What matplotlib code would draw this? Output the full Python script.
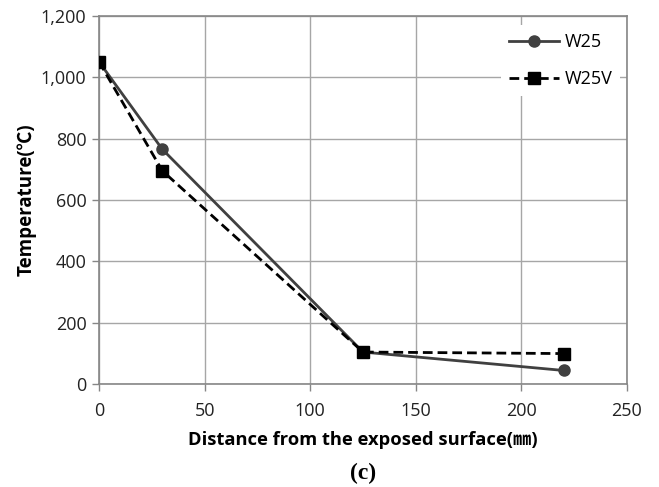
import matplotlib
matplotlib.use("Agg")
import matplotlib.pyplot as plt
from matplotlib.ticker import FuncFormatter

plt.rcParams['font.family'] = ['Open Sans', 'Noto Sans CJK KR', 'DejaVu Sans']

# distance from exposed surface (mm) and measured temperature (C)
distance = [0, 30, 125, 220]
temp_w25 = [1050, 765, 105, 45]
temp_w25v = [1050, 695, 105, 100]

xticks = [0, 50, 100, 150, 200, 250]
yticks = [0, 200, 400, 600, 800, 1000, 1200]

fig = plt.figure(figsize=(6.59, 4.87), dpi=100)
ax = fig.add_axes([0.1502, 0.2109, 0.8012, 0.7569])

ax.plot(distance, temp_w25, color='#404040', lw=2, marker='o', ms=8,
        label='W25', zorder=3)
ax.plot(distance, temp_w25v, color='black', lw=2, ls=(0, (3.5, 1.8)), marker='s',
        ms=8, label='W25V', zorder=4)

ax.set_xlim(0, 250)
ax.set_ylim(0, 1200)
ax.set_xticks(xticks)
ax.set_yticks(yticks)
ax.yaxis.set_major_formatter(FuncFormatter(lambda v, p: '{:,.0f}'.format(v)))
ax.grid(True, color='#a6a6a6', lw=1)
ax.set_axisbelow(True)
for s in ax.spines.values():
    s.set_color('#868686')
    s.set_linewidth(1.2)
ax.tick_params(direction='out', length=5, width=1, color='#868686',
               labelsize=13, labelcolor='#222222')
ax.tick_params(axis='x', pad=8)
ax.tick_params(axis='y', pad=4)

ax.set_xlabel('Distance from the exposed surface(㎜)', fontsize=13.2,
              fontweight='bold', labelpad=8)
ax.set_ylabel('Temperature(℃)', fontsize=13.5, fontweight='bold', labelpad=3)

leg = ax.legend(loc='upper right', bbox_to_anchor=(0.987, 0.975), frameon=True,
                fontsize=13, handlelength=2.8, handletextpad=0.28,
                labelspacing=1.07, borderpad=0.44, borderaxespad=0)
leg.get_frame().set_edgecolor('none')
leg.get_frame().set_facecolor('white')
leg.get_frame().set_alpha(1)

fig.text(0.551, 0.027, '(c)', family='Liberation Serif', fontweight='bold',
         fontsize=17, ha='center', va='center')

fig.savefig('out.png', dpi=100)
